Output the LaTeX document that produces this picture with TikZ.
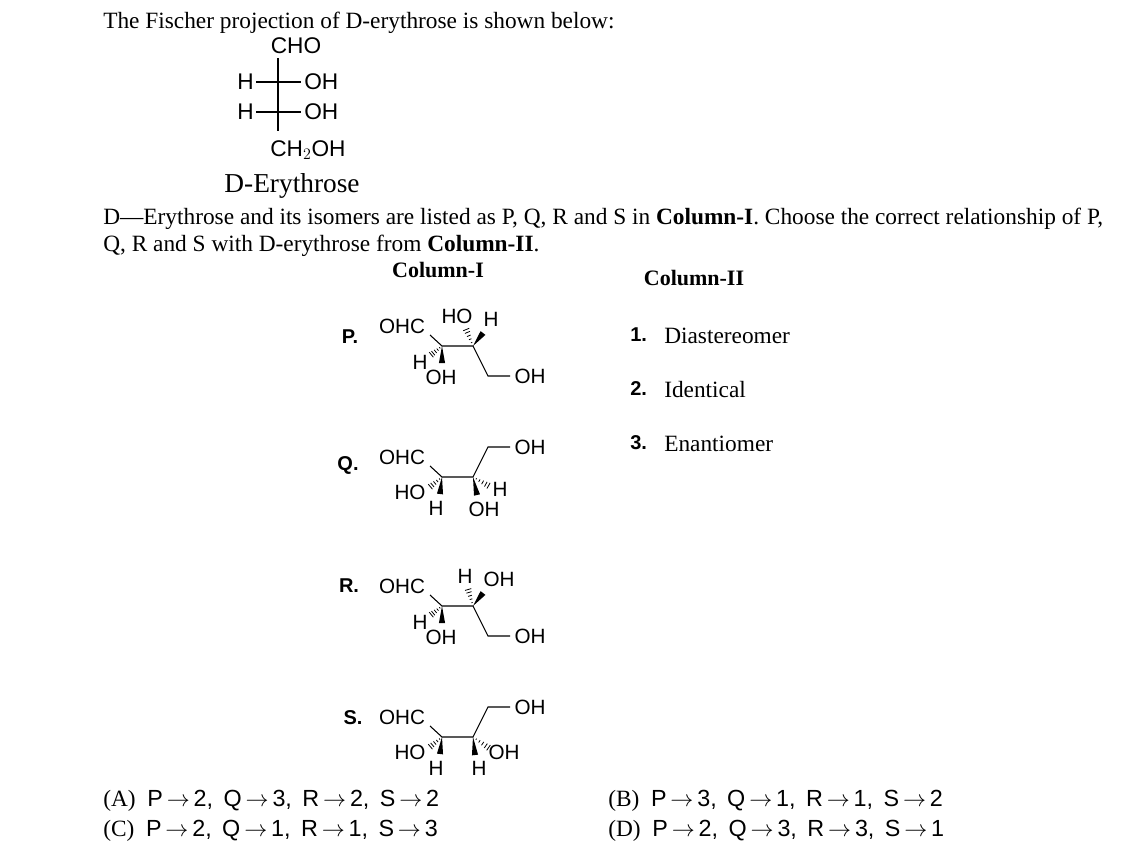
\documentclass[tikz,border=0pt]{standalone}
\usepackage{fontspec}
\setmainfont{Liberation Serif}
\setsansfont{Liberation Sans}
\usetikzlibrary{calc}
\newcommand\wdg[2]{\fill #1 -- ($#2!2.3pt!90:#1$) -- ($#2!2.3pt!-90:#1$) -- cycle;}
\newcommand\hsh[2]{\foreach \t in {0.2,0.4,0.6,0.8,0.97}{\draw[line width=0.6pt] ($#1!\t!#2!{\t*2.5pt}!90:#2$) -- ($#1!\t!#2!{\t*2.5pt}!-90:#2$);}}
\newcommand\ar{\,$\to$\,}
\tikzset{
 lab/.style={font=\sffamily\fontsize{15.5}{15.5}\selectfont, inner sep=0pt},
 flab/.style={font=\sffamily\fontsize{17}{17}\selectfont, inner sep=0pt},
 txt/.style={font=\fontsize{17.5}{20}\selectfont, anchor=base west, inner sep=0pt},
 bond/.style={line width=0.8pt},
 mlab/.style={font=\sffamily\bfseries\fontsize{15}{15}\selectfont, inner sep=0pt}
}
\begin{document}
\begin{tikzpicture}[x=0.75pt,y=-0.75pt]
\useasboundingbox (0,0) rectangle (1133,857);
% texts
\node[txt] (t1) at (103,28) {The Fischer projection of D-erythrose is shown below:};
\node[txt] (t2) at (103,224) {D---Erythrose and its isomers are listed as P, Q, R and S in \textbf{Column-I}. Choose the correct relationship of P,};
\node[txt] (t3) at (103,251) {Q, R and S with D-erythrose from \textbf{Column-II}.};
\node[txt,anchor=base,font=\bfseries\fontsize{16.5}{18}\selectfont] (c1) at (438,277) {Column-I};
\node[txt,anchor=base,font=\bfseries\fontsize{16.5}{18}\selectfont] (c2) at (694,285) {Column-II};
\node[txt,anchor=base west,font=\sffamily\bfseries\fontsize{15}{17}\selectfont] (n1) at (630,341) {1.};
\node[txt] (d1) at (664,343) {Diastereomer};
\node[txt,anchor=base west,font=\sffamily\bfseries\fontsize{15}{17}\selectfont] (n2) at (630,395) {2.};
\node[txt] (d2) at (664,397) {Identical};
\node[txt,anchor=base west,font=\sffamily\bfseries\fontsize{15}{17}\selectfont] (n3) at (630,449) {3.};
\node[txt] (d3) at (664,451) {Enantiomer};
\node[txt] (oa) at (103,806) {(A)\enspace{\sffamily P\ar2,\, Q\ar3,\, R\ar2,\, S\ar2}};
\node[txt] (oc) at (103,836) {(C)\enspace{\sffamily P\ar2,\, Q\ar1,\, R\ar1,\, S\ar3}};
\node[txt] (ob) at (608,806) {(B)\enspace{\sffamily P\ar3,\, Q\ar1,\, R\ar1,\, S\ar2}};
\node[txt] (od) at (608,836) {(D)\enspace{\sffamily P\ar2,\, Q\ar3,\, R\ar3,\, S\ar1}};
% Fischer
\coordinate (ft) at (278,58); \coordinate (fb) at (278,131);
\coordinate (fl1) at (256,82); \coordinate (fr1) at (301,82);
\coordinate (fl2) at (256,112); \coordinate (fr2) at (301,112);
\draw[bond] (ft) -- (fb) (fl1) -- (fr1) (fl2) -- (fr2);
\node[flab] (cho) at (296,46) {CHO};
\node[flab,anchor=east] (h1) at (254,82) {H};
\node[flab,anchor=east] (h2) at (254,112) {H};
\node[flab,anchor=west] (o1) at (304,82) {OH};
\node[flab,anchor=west] (o2) at (304,112) {OH};
\node[flab,anchor=west] (ch2) at (270,150) {CH$_2$OH};
\node[txt,anchor=base,font=\fontsize{20.5}{22}\selectfont] (de) at (292,192) {D-Erythrose};
% P
\node[mlab] (P) at (350,337) {P.};
\begin{scope}[shift={(442,346)}]
 \coordinate (a) at (0,0); \coordinate (b) at (31,0); \coordinate (c) at (46,30);
 \coordinate (d) at (68,30); \coordinate (e) at (-12,-11);
 \draw[bond] (e) -- (a) -- (b) -- (c) -- (d);
 \node[lab] (p1) at (-40,-20) {OHC};
 \node[lab] (p2) at (88,30) {OH};
 \coordinate (h) at (-11,9); \hsh{(a)}{(h)} \node[lab] (p3) at (-22,16) {H};
 \coordinate (w) at (0,17); \wdg{(a)}{(w)} \node[lab] (p4) at (-1,31) {OH};
 \coordinate (h2) at (24,-17); \hsh{(b)}{(h2)} \node[lab] (p5) at (15,-30) {HO};
 \coordinate (w2) at (41,-13); \wdg{(b)}{(w2)} \node[lab] (p6) at (49,-27) {H};
\end{scope}
% Q
\node[mlab] (Q) at (348,465) {Q.};
\begin{scope}[shift={(442,477)}]
 \coordinate (a) at (0,0); \coordinate (b) at (31,0); \coordinate (c) at (46,-30);
 \coordinate (d) at (68,-30); \coordinate (e) at (-12,-11);
 \draw[bond] (e) -- (a) -- (b) -- (c) -- (d);
 \node[lab] (q1) at (-40,-20) {OHC};
 \node[lab] (q2) at (88,-30) {OH};
 \coordinate (h) at (-12,10); \hsh{(a)}{(h)} \node[lab] (q3) at (-32,15) {HO};
 \coordinate (w) at (-2,17); \wdg{(a)}{(w)} \node[lab] (q4) at (-6,31) {H};
 \coordinate (h2) at (47,9); \hsh{(b)}{(h2)} \node[lab] (q5) at (58,12) {H};
 \coordinate (w2) at (35,18); \wdg{(b)}{(w2)} \node[lab] (q6) at (42,32) {OH};
\end{scope}
% R
\node[mlab] (R) at (349,586) {R.};
\begin{scope}[shift={(442,606)}]
 \coordinate (a) at (0,0); \coordinate (b) at (31,0); \coordinate (c) at (46,30);
 \coordinate (d) at (68,30); \coordinate (e) at (-12,-11);
 \draw[bond] (e) -- (a) -- (b) -- (c) -- (d);
 \node[lab] (r1) at (-40,-20) {OHC};
 \node[lab] (r2) at (88,30) {OH};
 \coordinate (h) at (-11,9); \hsh{(a)}{(h)} \node[lab] (r3) at (-22,16) {H};
 \coordinate (w) at (0,17); \wdg{(a)}{(w)} \node[lab] (r4) at (-1,31) {OH};
 \coordinate (h2) at (26,-17); \hsh{(b)}{(h2)} \node[lab] (r5) at (23,-30) {H};
 \coordinate (w2) at (41,-13); \wdg{(b)}{(w2)} \node[lab] (r6) at (57,-27) {OH};
\end{scope}
% S
\node[mlab] (S) at (353,718) {S.};
\begin{scope}[shift={(442,737)}]
 \coordinate (a) at (0,0); \coordinate (b) at (31,0); \coordinate (c) at (46,-30);
 \coordinate (d) at (68,-30); \coordinate (e) at (-12,-11);
 \draw[bond] (e) -- (a) -- (b) -- (c) -- (d);
 \node[lab] (s1) at (-40,-20) {OHC};
 \node[lab] (s2) at (88,-30) {OH};
 \coordinate (h) at (-12,10); \hsh{(a)}{(h)} \node[lab] (s3) at (-32,15) {HO};
 \coordinate (w) at (-2,17); \wdg{(a)}{(w)} \node[lab] (s4) at (-6,31) {H};
 \coordinate (h2) at (47,11); \hsh{(b)}{(h2)} \node[lab] (s5) at (62,15) {OH};
 \coordinate (w2) at (33,18); \wdg{(b)}{(w2)} \node[lab] (s6) at (37,31) {H};
\end{scope}
\end{tikzpicture}
\end{document}
